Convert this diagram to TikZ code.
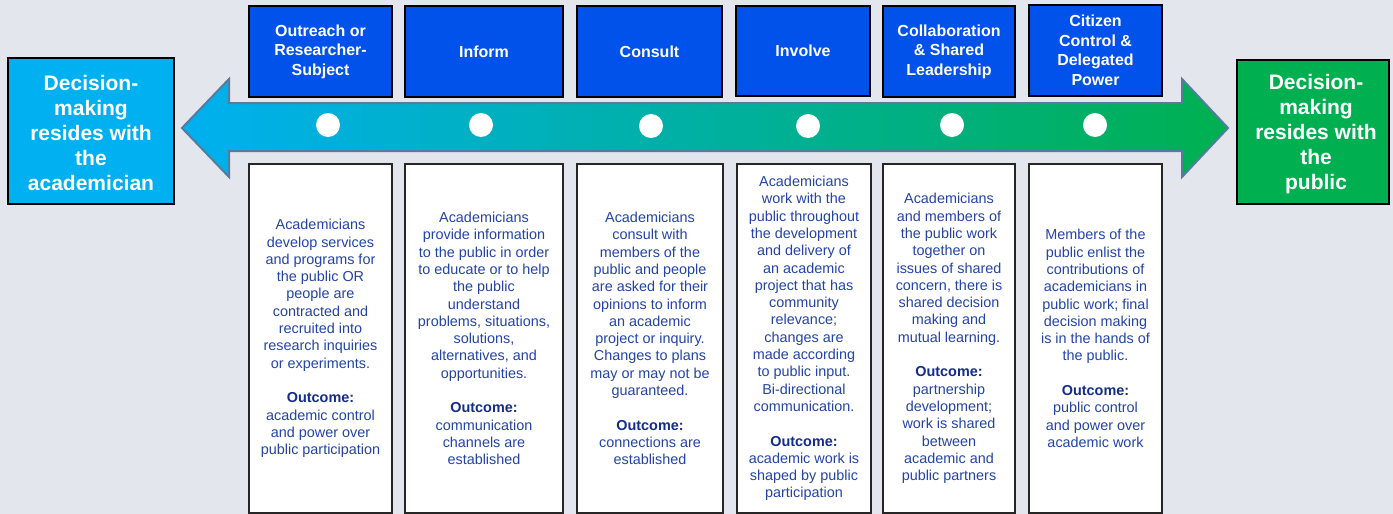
\documentclass[tikz,border=0pt]{standalone}
\usepackage{fontspec}
\setmainfont{Liberation Sans}
\definecolor{bgcol}{RGB}{228,230,237}
\definecolor{cyanend}{RGB}{0,176,240}
\definecolor{greenend}{RGB}{0,176,80}
\definecolor{topblue}{RGB}{0,82,234}
\definecolor{arrowedge}{RGB}{84,124,158}
\definecolor{bodyblue}{RGB}{36,68,166}
\definecolor{outblue}{RGB}{20,45,140}
\tikzset{
  endbox/.style={draw=black, line width=1.8pt, inner sep=0pt},
  endtext/.style={text=white, align=center, inner sep=0pt,
    font=\bfseries\fontsize{21}{25}\selectfont},
  topbox/.style={fill=topblue, draw=black, line width=1.4pt, text=white, align=center, inner sep=0pt,
    font=\bfseries\fontsize{16}{19.5}\selectfont},
  botbox/.style={fill=white, draw=black!85, line width=1.4pt, text=bodyblue, align=center, inner sep=0pt,
    font=\fontsize{14.4}{17.3}\selectfont},
  dot/.style={circle, fill=white, minimum size=24pt, inner sep=0pt}
}
\newcommand{\outc}{{\color{outblue}\textbf{Outcome:}}}
\begin{document}
\begin{tikzpicture}[x=1pt,y=-1pt]
\useasboundingbox (0,0) rectangle (1393,514);
\fill[bgcol] (0,0) rectangle (1393,514);
% arrow
\shade[left color=cyanend, right color=greenend]
  (182,128) -- (229,79) -- (229,103) -- (1182,103) -- (1182,79) -- (1228,128)
  -- (1182,177) -- (1182,151) -- (229,151) -- (229,177) -- cycle;
\draw[arrowedge, line width=2pt, line join=miter]
  (182,128) -- (229,79) -- (229,103) -- (1182,103) -- (1182,79) -- (1228,128)
  -- (1182,177) -- (1182,151) -- (229,151) -- (229,177) -- cycle;
% end boxes
\node[endbox, fill=cyanend, minimum width=166pt, minimum height=146pt] (left) at (91,131) {};
\node[endtext] (lefttext) at (91,133) {Decision-\\making\\resides with\\the\\academician};
\node[endbox, fill=greenend, minimum width=152pt, minimum height=144pt] (right) at (1313,132) {};
\node[endtext] (righttext) at (1316,134) {Decision-\\making\\resides with\\the\\public};
% top boxes
\node[topbox, minimum width=143pt, minimum height=91pt] (t1) at (320.5,51.5) {Outreach or\\Researcher-\\Subject};
\node[topbox, minimum width=158pt, minimum height=91pt] (t2) at (484,51.5) {Inform};
\node[topbox, minimum width=145pt, minimum height=91pt] (t3) at (649.5,51.5) {Consult};
\node[topbox, minimum width=134pt, minimum height=90pt] (t4) at (803,51) {Involve};
\node[topbox, minimum width=132pt, minimum height=91pt] (t5) at (949,51.5) {Collaboration\\\& Shared\\Leadership};
\node[topbox, minimum width=133pt, minimum height=91pt] (t6) at (1095.5,50.5) {Citizen\\Control \&\\Delegated\\Power};
% dots
\node[dot] (d1) at (328,125) {};
\node[dot] (d2) at (481,125) {};
\node[dot] (d3) at (651,126) {};
\node[dot] (d4) at (808,126) {};
\node[dot] (d5) at (952,125) {};
\node[dot] (d6) at (1095,125) {};
% bottom boxes
\node[botbox, minimum width=143pt, minimum height=349pt] (b1) at (320.5,338.5)
  {Academicians\\develop services\\and programs for\\the public OR\\people are\\contracted and\\recruited into\\research inquiries\\or experiments.\\[17.3pt]\outc\\academic control\\and power over\\public participation};
\node[botbox, minimum width=158pt, minimum height=349pt] (b2) at (484,338.5)
  {Academicians\\provide information\\to the public in order\\to educate or to help\\the public\\understand\\problems, situations,\\solutions,\\alternatives, and\\opportunities.\\[17.3pt]\outc\\communication\\channels are\\established};
\node[botbox, minimum width=146pt, minimum height=349pt] (b3) at (650,338.5)
  {Academicians\\consult with\\members of the\\public and people\\are asked for their\\opinions to inform\\an academic\\project or inquiry.\\Changes to plans\\may or may not be\\guaranteed.\\[17.3pt]\outc\\connections are\\established};
\node[botbox, minimum width=134pt, minimum height=349pt] (b4) at (804,338.5)
  {Academicians\\work with the\\public throughout\\the development\\and delivery of\\an academic\\project that has\\community\\relevance;\\changes are\\made according\\to public input.\\Bi-directional\\communication.\\[17.3pt]\outc\\academic work is\\shaped by public\\participation};
\node[botbox, minimum width=132pt, minimum height=349pt] (b5) at (949,338.5)
  {Academicians\\and members of\\the public work\\together on\\issues of shared\\concern, there is\\shared decision\\making and\\mutual learning.\\[17.3pt]\outc\\partnership\\development;\\work is shared\\between\\academic and\\public partners};
\node[botbox, minimum width=133pt, minimum height=349pt] (b6) at (1095.5,338.5)
  {Members of the\\public enlist the\\contributions of\\academicians in\\public work; final\\decision making\\is in the hands of\\the public.\\[17.3pt]\outc\\public control\\and power over\\academic work};
\end{tikzpicture}
\end{document}
